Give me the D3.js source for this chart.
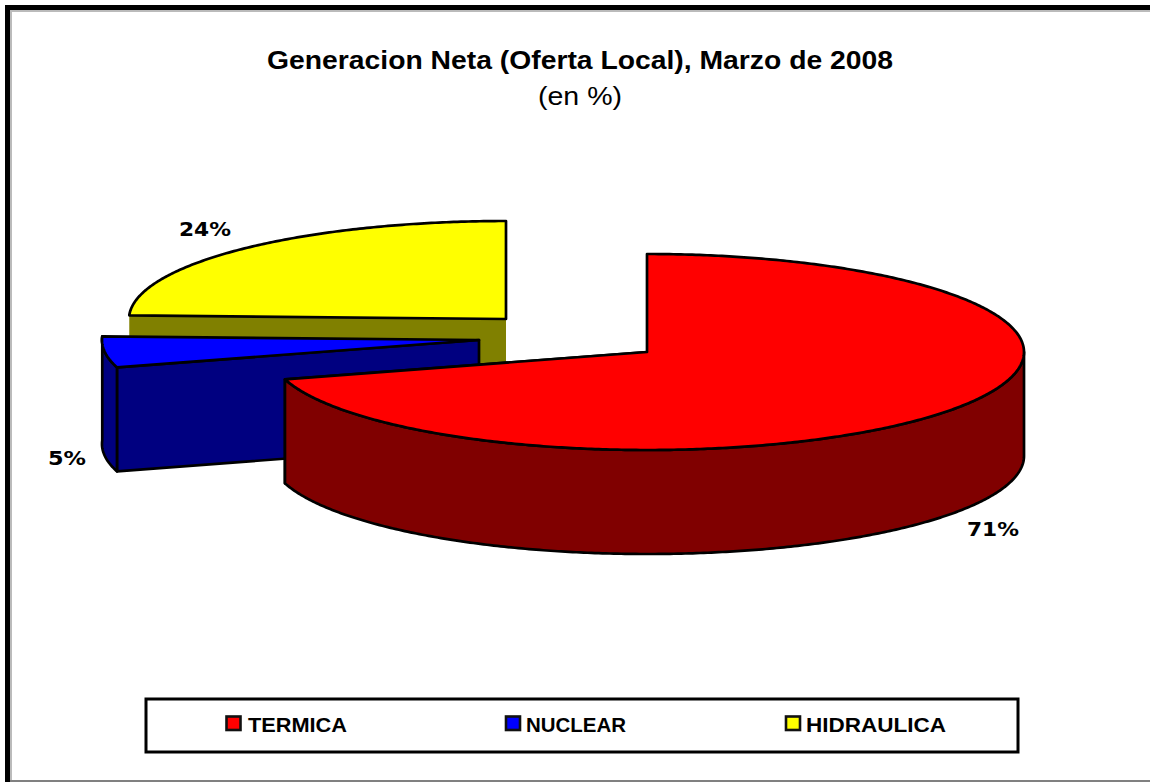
<!DOCTYPE html>
<html><head><meta charset="utf-8">
<script src="https://cdn.jsdelivr.net/npm/d3@7/dist/d3.min.js"></script>
<style>html,body{margin:0;padding:0;background:#fff}svg{display:block}text{font-family:"Liberation Sans",sans-serif;fill:#000}</style>
</head><body><svg id="c" width="1150" height="782"></svg>
<script>
const categories = ["TERMICA","NUCLEAR","HIDRAULICA"];
const values = [70.5,5.1,24.4];
const labels = ["71%","5%","24%"];
const topColors = ["#ff0000","#0000ff","#ffff00"];
const sideColors = ["#800000","#000080","#808000"];
const titleText = "Generacion Neta (Oferta Local), Marzo de 2008";
const subtitleText = "(en %)";

const svg = d3.select("#c");
const W=1150,H=782;
svg.append("rect").attr("width",W).attr("height",H).attr("fill","#fff");
// outer frame: thick black top/left, thin grey bottom
svg.append("rect").attr("x",10).attr("y",10).attr("width",W).attr("height",2).attr("fill","#bbb");
svg.append("rect").attr("x",10).attr("y",10).attr("width",2).attr("height",H-12).attr("fill","#bbb");
svg.append("rect").attr("x",5).attr("y",5).attr("width",W).attr("height",5).attr("fill","#000");
svg.append("rect").attr("x",5).attr("y",5).attr("width",5).attr("height",H-5).attr("fill","#000");
svg.append("rect").attr("x",10).attr("y",780).attr("width",W).attr("height",2).attr("fill","#808080");

const fit=(sel,w)=>sel.attr("textLength",w).attr("lengthAdjust","spacingAndGlyphs");
fit(svg.append("text").attr("x",580).attr("y",69).attr("text-anchor","middle").attr("font-size",25).attr("font-weight","bold"),626).text(titleText);
fit(svg.append("text").attr("x",580).attr("y",105).attr("text-anchor","middle").attr("font-size",25),84).text(subtitleText);

const rx=377, ry=98, depth=104;
const centers=[[647,352],[479,340],[506,319]];
const pie=d3.pie().sort(null)(values);
const pt=(c,a,dy=0)=>[c[0]+rx*Math.sin(a),c[1]-ry*Math.cos(a)+dy];
const line=d3.line();
const arcPts=(c,a0,a1,dy=0)=>{const n=Math.max(2,Math.ceil(Math.abs(a1-a0)/0.01));return d3.range(n+1).map(i=>pt(c,a0+(a1-a0)*i/n,dy));};
const sw=2.7;
function draw(d,i){
  const c=centers[i],a0=d.startAngle,a1=d.endAngle,g=svg.append("g");
  const style=(p,fill)=>p.attr("fill",fill).attr("stroke","#000").attr("stroke-width",sw).attr("stroke-linejoin","round");
  const faceAngle=i===0?a1:a0;
  const tip=pt(c,faceAngle);
  const face=g.append("path").attr("d",line([tip,c,[c[0],c[1]+depth],[tip[0],tip[1]+depth]])+"Z");
  if(i===2) face.attr("fill",sideColors[i]); else style(face,sideColors[i]);
  const lo=Math.max(a0,Math.PI/2),hi=Math.min(a1,3*Math.PI/2+0.1);
  if(hi>lo && i!==2){
    const top=arcPts(c,lo,hi),bot=arcPts(c,hi,lo,depth);
    style(g.append("path"),sideColors[i]).attr("d",line(top.concat(bot))+"Z");
  }
  style(g.append("path"),topColors[i]).attr("d",line([c].concat(arcPts(c,a0,a1)))+"Z");
}
[2,1,0].forEach(i=>draw(pie[i],i));

const labelPos=[[993,536],[67,465],[205,236]];
const labelW=[52,38,52];
labels.forEach((t,i)=>fit(svg.append("text").attr("x",labelPos[i][0]).attr("y",labelPos[i][1]).attr("text-anchor","middle").attr("font-size",19).attr("font-weight","bold").style("font-family","DejaVu Sans"),labelW[i]).text(t));

// legend
svg.append("rect").attr("x",146).attr("y",699).attr("width",872).attr("height",53).attr("fill","#fff").attr("stroke","#000").attr("stroke-width",3);
const keyX=d3.scaleOrdinal().domain(categories).range([226.5,506,786]);
const textX=d3.scaleOrdinal().domain(categories).range([248,526,806]);
const textW=d3.scaleOrdinal().domain(categories).range([99,100,140]);
categories.forEach((n,i)=>{
  svg.append("rect").attr("x",keyX(n)).attr("y",716.5).attr("width",14).attr("height",13.5).attr("fill",topColors[i]).attr("stroke","#111").attr("stroke-width",2.6);
  fit(svg.append("text").attr("x",textX(n)).attr("y",732).attr("font-size",20.5).attr("font-weight","bold"),textW(n)).text(n);
});
</script></body></html>
